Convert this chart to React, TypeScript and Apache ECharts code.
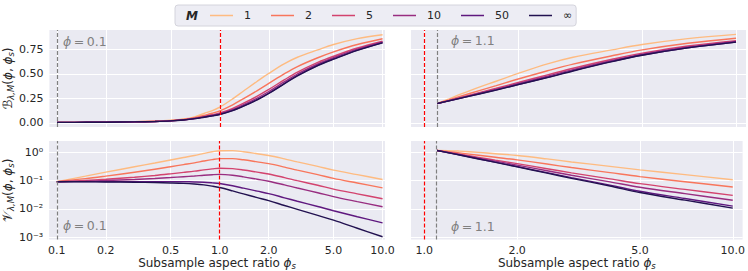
import React, { useEffect, useRef } from "react";
import * as echarts from "echarts";

const FONT = "DejaVu Sans";
const TEXT = "#262626";

// Ensemble sizes and their colours
const M_LABELS = ["1", "2", "5", "10", "50", "∞"];
const M_COLORS = ["#febb81", "#f8765c", "#d3436e", "#982d80", "#5f187f", "#221150"];

// Subsample aspect ratios (phi_s) at which values were read
const PHI_S_LEFT = [0.1, 0.15, 0.2, 0.3, 0.4, 0.5, 0.6, 0.7, 0.8, 0.9, 1.0, 1.2, 1.4, 1.7, 2, 2.5, 3, 4, 5, 7, 10];
const PHI_S_RIGHT = [1.1, 1.2, 1.3, 1.5, 1.7, 2, 2.5, 3, 4, 5, 7, 10];

// Bias, phi = 0.1
const BIAS_L_1 = [0.005, 0.006, 0.008, 0.012, 0.018, 0.027, 0.040, 0.062, 0.096, 0.125, 0.160, 0.245, 0.325, 0.425, 0.505, 0.605, 0.670, 0.745, 0.800, 0.860, 0.900];
const BIAS_L_2 = [0.005, 0.006, 0.0075, 0.011, 0.016, 0.0235, 0.035, 0.0525, 0.077, 0.0985, 0.123, 0.185, 0.2475, 0.330, 0.4025, 0.5025, 0.575, 0.665, 0.725, 0.800, 0.8585];
const BIAS_L_5 = [0.005, 0.006, 0.0072, 0.0104, 0.0148, 0.0214, 0.032, 0.0468, 0.0656, 0.0826, 0.1008, 0.149, 0.201, 0.273, 0.341, 0.441, 0.518, 0.617, 0.680, 0.764, 0.8336];
const BIAS_L_10 = [0.005, 0.006, 0.0071, 0.0102, 0.0144, 0.0207, 0.031, 0.0449, 0.0618, 0.0773, 0.0934, 0.137, 0.1855, 0.254, 0.3205, 0.4205, 0.499, 0.601, 0.665, 0.752, 0.8253];
const BIAS_L_50 = [0.005, 0.006, 0.007, 0.010, 0.0141, 0.0201, 0.0302, 0.0434, 0.0588, 0.0731, 0.0875, 0.1274, 0.1731, 0.2388, 0.3041, 0.4041, 0.4838, 0.5882, 0.653, 0.7424, 0.8187];
const BIAS_L_INF = [0.005, 0.006, 0.007, 0.010, 0.014, 0.020, 0.030, 0.043, 0.058, 0.072, 0.086, 0.125, 0.170, 0.235, 0.300, 0.400, 0.480, 0.585, 0.650, 0.740, 0.817];

// Bias, phi = 1.1
const BIAS_R_1 = [0.198, 0.245, 0.290, 0.365, 0.425, 0.505, 0.605, 0.670, 0.745, 0.800, 0.860, 0.903];
const BIAS_R_2 = [0.198, 0.235, 0.270, 0.330, 0.380, 0.4475, 0.535, 0.600, 0.685, 0.745, 0.8125, 0.8635];
const BIAS_R_5 = [0.198, 0.229, 0.258, 0.309, 0.353, 0.413, 0.493, 0.558, 0.649, 0.712, 0.784, 0.8398];
const BIAS_R_10 = [0.198, 0.227, 0.254, 0.302, 0.344, 0.4015, 0.479, 0.544, 0.637, 0.701, 0.7745, 0.8319];
const BIAS_R_50 = [0.198, 0.2254, 0.2508, 0.2964, 0.3368, 0.3923, 0.4678, 0.5328, 0.6274, 0.6922, 0.7669, 0.8256];
const BIAS_R_INF = [0.198, 0.225, 0.250, 0.295, 0.335, 0.390, 0.465, 0.530, 0.625, 0.690, 0.765, 0.824];

// Variance, phi = 0.1
const VAR_L_1 = [0.092, 0.144, 0.20, 0.31, 0.42, 0.54, 0.66, 0.78, 0.92, 1.05, 1.15, 1.16, 1.06, 0.90, 0.78, 0.59, 0.46, 0.32, 0.236, 0.163, 0.11];
const VAR_L_2 = [0.092, 0.1175, 0.145, 0.199, 0.253, 0.3115, 0.370, 0.428, 0.4955, 0.557, 0.6035, 0.6017, 0.547, 0.4626, 0.3998, 0.3016, 0.2348, 0.1629, 0.120, 0.0825, 0.0555];
const VAR_L_5 = [0.092, 0.1016, 0.112, 0.1324, 0.1528, 0.1744, 0.196, 0.2168, 0.2408, 0.2612, 0.2756, 0.2667, 0.2391, 0.2001, 0.1717, 0.1286, 0.0997, 0.0687, 0.0504, 0.0342, 0.0228];
const VAR_L_10 = [0.092, 0.0963, 0.101, 0.1102, 0.1194, 0.1287, 0.138, 0.1464, 0.1559, 0.1626, 0.1663, 0.1551, 0.1365, 0.1126, 0.0956, 0.0709, 0.0547, 0.0373, 0.0272, 0.0181, 0.0119];
const VAR_L_50 = [0.092, 0.0921, 0.0922, 0.0924, 0.0927, 0.0921, 0.0916, 0.0901, 0.0880, 0.0837, 0.0789, 0.0657, 0.0544, 0.0426, 0.0348, 0.0247, 0.0187, 0.0122, 0.0086, 0.00528, 0.00321];
const VAR_L_INF = [0.092, 0.091, 0.090, 0.088, 0.086, 0.083, 0.080, 0.076, 0.071, 0.064, 0.057, 0.0434, 0.0339, 0.0251, 0.0196, 0.0132, 0.00966, 0.00587, 0.0040, 0.00206, 0.00103];

// Variance, phi = 1.1
const VAR_R_1 = [1.17, 1.16, 1.11, 1.0, 0.9, 0.78, 0.59, 0.46, 0.32, 0.24, 0.163, 0.108];
const VAR_R_2 = [1.17, 1.063, 0.960, 0.794, 0.672, 0.544, 0.387, 0.291, 0.192, 0.139, 0.0917, 0.0593];
const VAR_R_5 = [1.17, 1.005, 0.870, 0.670, 0.535, 0.402, 0.265, 0.189, 0.116, 0.0784, 0.0489, 0.0301];
const VAR_R_10 = [1.17, 0.985, 0.840, 0.628, 0.490, 0.354, 0.225, 0.155, 0.0902, 0.0582, 0.0347, 0.0203];
const VAR_R_50 = [1.17, 0.970, 0.816, 0.595, 0.453, 0.316, 0.192, 0.128, 0.0698, 0.042, 0.0233, 0.0125];
const VAR_R_INF = [1.17, 0.966, 0.810, 0.587, 0.444, 0.307, 0.184, 0.121, 0.0647, 0.038, 0.0204, 0.0106];

// Ticks
const X_TICKS_LEFT = [0.1, 0.2, 0.5, 1, 2, 5, 10];
const X_TICK_LABELS_LEFT = ["0.1", "0.2", "0.5", "1.0", "2.0", "5.0", "10.0"];
const X_TICKS_RIGHT = [1, 2, 5, 10];
const X_TICK_LABELS_RIGHT = ["1.0", "2.0", "5.0", "10.0"];
const B_TICKS = [0, 0.25, 0.5, 0.75];
const B_TICK_LABELS = ["0.00", "0.25", "0.50", "0.75"];
const V_TICKS = [0.001, 0.01, 0.1, 1];
const V_TICK_LABELS = ["10⁻³", "10⁻²", "10⁻¹", "10⁰"];

// Vertical reference lines
const PHI_VALUES = [0.1, 1.1];
const THRESHOLD = 1.0;

const lg = (v: number) => Math.log10(v);

const subRich = {
  n: { fontSize: 12, fontFamily: FONT, color: TEXT, lineHeight: 14, padding: [0, 0, 1, 0] },
  s: { fontSize: 12.5, fontFamily: FONT, color: TEXT, lineHeight: 14, padding: [0, 0, 1, 0] },
  i: { fontSize: 12, fontFamily: FONT, color: TEXT, fontStyle: "italic", lineHeight: 14, padding: [0, 0, 1, 0] },
  sub: { fontSize: 8.5, fontFamily: FONT, color: TEXT, fontStyle: "italic", lineHeight: 8, verticalAlign: "bottom" },
};

function labelFor(ticks: number[], labels: string[], logScale: boolean) {
  return (v: number) => {
    let best = 0;
    let d = Infinity;
    ticks.forEach((t, i) => {
      const tv = logScale ? lg(t) : t;
      const dd = Math.abs(tv - v);
      if (dd < d) {
        d = dd;
        best = i;
      }
    });
    return labels[best];
  };
}

export default function App() {
  const ref = useRef<HTMLDivElement>(null);

  useEffect(() => {
    if (!ref.current) return;
    const chart = echarts.init(ref.current, undefined, { renderer: "svg" });

    const grids = [
      { left: 48, top: 30, width: 337, height: 97 },
      { left: 411, top: 30, width: 335, height: 97 },
      { left: 48, top: 141, width: 337, height: 100 },
      { left: 411, top: 141, width: 335, height: 100 },
    ].map((g) => ({ ...g, show: true, backgroundColor: "#eaeaf2", borderWidth: 0 }));

    const xRanges = [
      [-1.047, 1.015],
      [-0.043, 1.032],
      [-1.047, 1.015],
      [-0.043, 1.032],
    ];
    const xTicks = [X_TICKS_LEFT, X_TICKS_RIGHT, X_TICKS_LEFT, X_TICKS_RIGHT];
    const xLabels = [X_TICK_LABELS_LEFT, X_TICK_LABELS_RIGHT, X_TICK_LABELS_LEFT, X_TICK_LABELS_RIGHT];

    const xAxis = [0, 1, 2, 3].map((i) => {
      const cv = xTicks[i].map(lg);
      const bottom = i >= 2;
      return {
        type: "value",
        gridIndex: i,
        min: xRanges[i][0],
        max: xRanges[i][1],
        axisLine: { show: false },
        axisTick: { show: false, customValues: cv },
        axisLabel: {
          show: bottom,
          customValues: cv,
          formatter: labelFor(xTicks[i], xLabels[i], true),
          fontSize: 11,
          color: TEXT,
          fontFamily: FONT,
          margin: 5,
        },
        splitLine: { show: true, lineStyle: { color: "#ffffff", width: 1 } },
        name: bottom ? "{n|Subsample aspect ratio }{i|ϕ}{sub|s}" : "",
        nameLocation: "middle",
        nameGap: 15,
        nameTextStyle: { rich: subRich, fontSize: 12, color: TEXT, fontFamily: FONT },
      };
    });

    const yAxis = [0, 1, 2, 3].map((i) => {
      const isVar = i >= 2;
      const ticks = isVar ? V_TICKS : B_TICKS;
      const labels = isVar ? V_TICK_LABELS : B_TICK_LABELS;
      const cv = isVar ? ticks.map(lg) : ticks;
      const showLab = i === 0 || i === 2;
      return {
        type: "value",
        gridIndex: i,
        min: isVar ? -3.087 : -0.042,
        max: isVar ? 0.404 : 0.948,
        axisLine: { show: false },
        axisTick: { show: false, customValues: cv },
        axisLabel: {
          show: showLab,
          customValues: cv,
          formatter: labelFor(ticks, labels, isVar),
          fontSize: 11,
          color: TEXT,
          fontFamily: FONT,
          margin: 6,
        },
        splitLine: { show: true, lineStyle: { color: "#ffffff", width: 1 } },
        name: showLab
          ? (isVar ? "{s|𝒱}" : "{s|ℬ}") + "{sub|λ,M}{n|(}{i|ϕ}{n|, }{i|ϕ}{sub|s}{n|)}"
          : "",
        nameLocation: "middle",
        nameGap: 32,
        nameTextStyle: { rich: subRich, fontSize: 12, color: TEXT, fontFamily: FONT },
      };
    });

    const panels = [
      { xs: PHI_S_LEFT, curves: [BIAS_L_1, BIAS_L_2, BIAS_L_5, BIAS_L_10, BIAS_L_50, BIAS_L_INF], logY: false, phi: PHI_VALUES[0] },
      { xs: PHI_S_RIGHT, curves: [BIAS_R_1, BIAS_R_2, BIAS_R_5, BIAS_R_10, BIAS_R_50, BIAS_R_INF], logY: false, phi: PHI_VALUES[1] },
      { xs: PHI_S_LEFT, curves: [VAR_L_1, VAR_L_2, VAR_L_5, VAR_L_10, VAR_L_50, VAR_L_INF], logY: true, phi: PHI_VALUES[0] },
      { xs: PHI_S_RIGHT, curves: [VAR_R_1, VAR_R_2, VAR_R_5, VAR_R_10, VAR_R_50, VAR_R_INF], logY: true, phi: PHI_VALUES[1] },
    ];

    const series: any[] = [];
    panels.forEach((p, pi) => {
      p.curves.forEach((ys, mi) => {
        const s: any = {
          type: "line",
          name: M_LABELS[mi],
          xAxisIndex: pi,
          yAxisIndex: pi,
          data: p.xs.map((x, k) => [lg(x), p.logY ? lg(ys[k]) : ys[k]]),
          symbol: "none",
          showSymbol: false,
          smooth: 0.35,
          silent: true,
          lineStyle: { color: M_COLORS[mi], width: 1.4 },
          itemStyle: { color: M_COLORS[mi] },
          emphasis: { disabled: true },
        };
        if (mi === p.curves.length - 1) {
          s.markLine = {
            silent: true,
            symbol: ["none", "none"],
            label: { show: false },
            animation: false,
            data: [
              { xAxis: lg(p.phi), lineStyle: { color: "#808080", type: [4, 2], width: 1.2 } },
              { xAxis: lg(THRESHOLD), lineStyle: { color: "#ff0000", type: [4, 2], width: 1.2 } },
            ],
          };
        }
        series.push(s);
      });
    });

    const phiText = (x: number, y: number, phi: number) => ({
      type: "text",
      x,
      y,
      z: 50,
      style: {
        text: "{i|ϕ}{n|\u2009=\u2009" + phi.toFixed(1) + "}",
        fill: "#808080",
        fontSize: 12.5,
        fontFamily: FONT,
        verticalAlign: "middle",
        rich: {
          i: { fontSize: 12.5, fontFamily: FONT, fontStyle: "italic", fill: "#808080" },
          n: { fontSize: 12.5, fontFamily: FONT, fill: "#808080" },
        },
      },
    });

    chart.setOption({
      animation: false,
      textStyle: { fontFamily: FONT },
      grid: grids,
      xAxis,
      yAxis,
      series,
      legend: {
        data: M_LABELS.map((name, i) => ({ name, icon: "rect", itemStyle: { color: M_COLORS[i] } })),
        left: 175,
        top: 5,
        padding: [4, 4, 4, 35],
        itemWidth: 23,
        itemHeight: 1.5,
        itemGap: 20,
        backgroundColor: "rgba(234,234,242,0.85)",
        borderColor: "#d4d4dc",
        borderWidth: 1,
        borderRadius: 3,
        selectedMode: false,
        textStyle: { fontSize: 11, color: TEXT, fontFamily: FONT, padding: [0, 0, 0, 6], lineHeight: 13 },
      },
      graphic: [
        {
          type: "text",
          x: 186,
          y: 15.5,
          z: 100,
          style: {
            text: "M",
            fill: TEXT,
            fontSize: 12,
            fontWeight: "bold",
            fontStyle: "italic",
            fontFamily: FONT,
            verticalAlign: "middle",
          },
        },
        phiText(63, 41, PHI_VALUES[0]),
        phiText(63, 225, PHI_VALUES[0]),
        phiText(451, 40, PHI_VALUES[1]),
        phiText(451, 226, PHI_VALUES[1]),
      ],
    });

    return () => chart.dispose();
  }, []);

  return (
    <div
      ref={ref}
      style={{ position: "absolute", left: 0, top: 0, width: 748, height: 271, background: "#ffffff" }}
    />
  );
}
